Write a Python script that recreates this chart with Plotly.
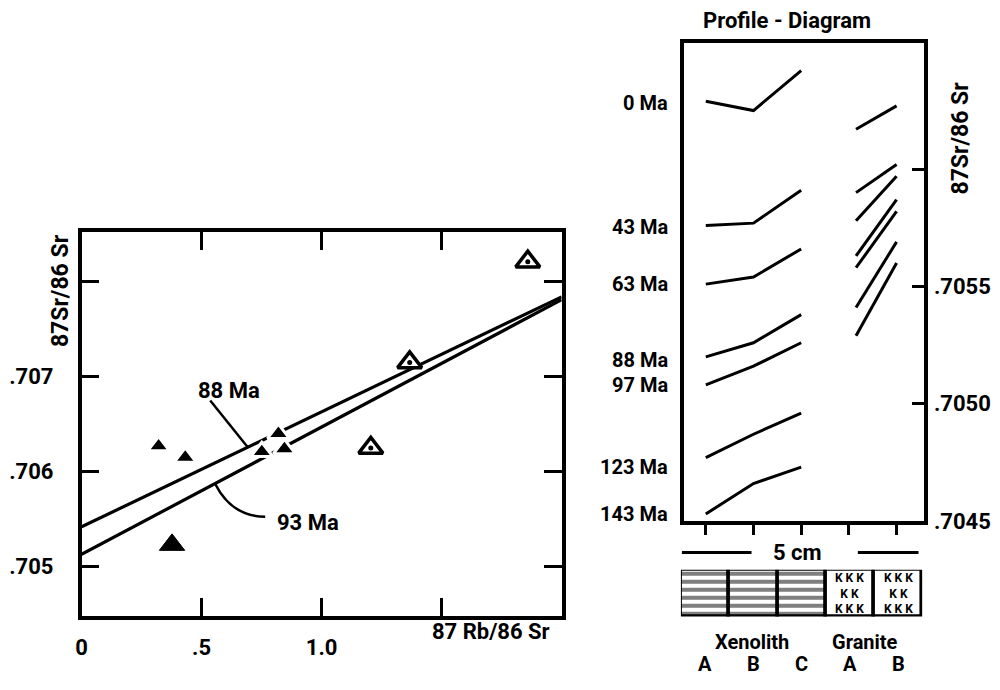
import plotly.graph_objects as go

# ---------------- Left panel: Rb-Sr isochron ----------------
xen_rb = [0.321, 0.432, 0.751, 0.820, 0.845]          # small filled triangles
xen_sr = [0.70627, 0.70615, 0.70621, 0.70640, 0.70624]
big_rb = [0.377]                                        # large filled triangle
big_sr = [0.70523]
gran_rb = [1.205, 1.367, 1.859]                         # open triangles with dot
gran_sr = [0.70625, 0.70715, 0.70821]

iso_x = [0.0, 2.0]
iso88_y = [0.70542, 0.70784]
iso93_y = [0.70513, 0.70781]

x_tickvals = [0, 0.5, 1.0, 1.5]
x_ticktext = ["0", ".5", "1.0", ""]
y_tickvals = [0.705, 0.706, 0.707, 0.708]
y_ticktext = [".705", ".706", ".707", ""]

# ---------------- Right panel: profile diagram ----------------
ages = ["0 Ma", "43 Ma", "63 Ma", "88 Ma", "97 Ma", "123 Ma", "143 Ma"]
xen_pos = [0, 1, 2]
gran_pos = [3.15, 4.0]
xen_profiles = [
    [0.70629, 0.70625, 0.70642],
    [0.70576, 0.70577, 0.70591],
    [0.70551, 0.70554, 0.70566],
    [0.70520, 0.70526, 0.70538],
    [0.70508, 0.70516, 0.70526],
    [0.70477, 0.70487, 0.70496],
    [0.70453, 0.70466, 0.70473],
]
gran_profiles = [
    [0.70617, 0.70627],
    [0.70590, 0.70602],
    [0.70578, 0.70597],
    [0.70563, 0.70587],
    [0.70558, 0.70582],
    [0.70541, 0.70569],
    [0.70529, 0.70560],
]
r_tickvals = [0.7045, 0.7050, 0.7055, 0.7060]
r_ticktext = [".7045", ".7050", ".7055", ""]

samples = ["A", "B", "C", "A", "B"]
sample_pos = [0, 1, 2, 3, 4]
rock_types = ["Xenolith", "Granite"]
granite_cells = [3, 4]

# ---------------- styles ----------------
FONT = "Roboto"
BLACK = "black"
age_label_shift = [-2, -2, 0, -3, 0, -9, 0]

fig = go.Figure()

fig.add_trace(go.Scatter(x=iso_x, y=iso88_y, mode="lines",
                         line=dict(color=BLACK, width=3.2), xaxis="x", yaxis="y"))
fig.add_trace(go.Scatter(x=iso_x, y=iso93_y, mode="lines",
                         line=dict(color=BLACK, width=3.2), xaxis="x", yaxis="y"))

fig.add_trace(go.Scatter(x=xen_rb, y=xen_sr, mode="markers",
                         marker=dict(symbol="triangle-up", size=19, color=BLACK,
                                     line=dict(color="white", width=3)),
                         xaxis="x", yaxis="y"))
fig.add_trace(go.Scatter(x=big_rb, y=big_sr, mode="markers",
                         marker=dict(symbol="triangle-up", size=22, color=BLACK,
                                     line=dict(color=BLACK, width=1)),
                         xaxis="x", yaxis="y"))
fig.add_trace(go.Scatter(x=gran_rb, y=gran_sr, mode="markers",
                         marker=dict(symbol="triangle-up", size=22, color="white",
                                     line=dict(color="white", width=2)),
                         xaxis="x", yaxis="y"))
fig.add_trace(go.Scatter(x=gran_rb, y=gran_sr, mode="markers",
                         marker=dict(symbol="triangle-up-open", size=21, color=BLACK,
                                     line=dict(color=BLACK, width=3.5)),
                         xaxis="x", yaxis="y"))
fig.add_trace(go.Scatter(x=gran_rb, y=gran_sr, mode="markers",
                         marker=dict(symbol="circle", size=5, color=BLACK),
                         xaxis="x", yaxis="y"))

for prof in xen_profiles:
    fig.add_trace(go.Scatter(x=xen_pos, y=prof, mode="lines",
                             line=dict(color=BLACK, width=3), xaxis="x2", yaxis="y2"))
for prof in gran_profiles:
    fig.add_trace(go.Scatter(x=gran_pos, y=prof, mode="lines",
                             line=dict(color=BLACK, width=3), xaxis="x2", yaxis="y2"))

fig.add_trace(go.Bar(
    x=sample_pos, y=[1] * len(sample_pos), width=1, xaxis="x3", yaxis="y3",
    marker=dict(color="white", line=dict(color=BLACK, width=3.5),
                pattern=dict(shape=["-", "-", "-", "", ""], fgcolor=BLACK,
                             bgcolor="white", size=8, solidity=0.5)),
))

axis_common = dict(showgrid=False, zeroline=False, showline=True, linecolor=BLACK,
                   linewidth=3.5, tickcolor=BLACK, tickwidth=3,
                   tickfont=dict(family=FONT, size=22, color=BLACK, weight="bold"))

fig.update_layout(
    width=1000, height=690, margin=dict(l=0, r=0, t=0, b=0),
    plot_bgcolor="white", paper_bgcolor="white", showlegend=False, bargap=0,
    xaxis=dict(domain=[0.076, 0.559], range=[0, 2.0], anchor="y",
               tickvals=x_tickvals, ticktext=x_ticktext, ticks="inside",
               ticklen=18, mirror="ticks", ticklabelstandoff=9, **axis_common),
    yaxis=dict(domain=[0.0899, 0.657], range=[0.70448, 0.70852], anchor="x",
               tickvals=y_tickvals, ticktext=y_ticktext, ticks="inside",
               ticklen=18, mirror="ticks", ticklabelstandoff=20, **axis_common),
    xaxis2=dict(domain=[0.6817, 0.9233], range=[-0.465, 4.57], anchor="y2",
                tickvals=sample_pos, ticks="outside", ticklen=10,
                showticklabels=False, mirror=True, **axis_common),
    yaxis2=dict(domain=[0.2304, 0.9372], range=[0.7045, 0.70654], anchor="x2",
                side="right", tickvals=r_tickvals, ticktext=r_ticktext,
                ticks="inside", ticklen=12, mirror=True, ticklabelstandoff=2,
                **axis_common),
    xaxis3=dict(domain=[0.679, 0.9217], range=[-0.5, 4.5], anchor="y3",
                visible=False, fixedrange=True),
    yaxis3=dict(domain=[0.0894, 0.1584], range=[0, 1], anchor="x3",
                visible=False, fixedrange=True),
)

tf = dict(family=FONT, size=22, color=BLACK, weight="bold")
tf_title = dict(family=FONT, size=23, color=BLACK, weight="bold")
tf_age = dict(family=FONT, size=20, color=BLACK, weight="bold")
tf_small = dict(family=FONT, size=20, color=BLACK, weight="bold")
tf_k = dict(family=FONT, size=12, color=BLACK, weight="bold")


def label(text, x, y, xref="paper", yref="paper", **kw):
    d = dict(text=text, x=x, y=y, xref=xref, yref=yref, showarrow=False,
             xanchor="center", yanchor="middle", font=tf)
    d.update(kw)
    return d


ann = []
ann.append(label("88 Ma", 0.615, 0.70685, "x", "y"))
ann.append(label("93 Ma", 0.943, 0.70547, "x", "y"))
ann.append(label("87Sr/86 Sr", 0.055, 0.571, textangle=-90, font=tf_title))
ann.append(label("87 Rb/86 Sr", 0.4875, 0.0667))
ann.append(label("Profile - Diagram", 0.786, 0.9696))
ann.append(label("87Sr/86 Sr", 0.960, 0.7957, textangle=-90, font=tf_title))
for age, prof, sh in zip(ages, xen_profiles, age_label_shift):
    ann.append(label(age, 0.668, prof[0], "paper", "y2", xanchor="right",
                     yshift=sh, font=tf_age))
ann.append(label("5 cm", 0.796, 0.184))
ann.append(label(rock_types[0], 0.751, 0.0522, font=tf_small))
ann.append(label(rock_types[1], 0.864, 0.0522, font=tf_small))
for s, p in zip(samples, sample_pos):
    ann.append(label(s, p, 0.0188, "x3", "paper", font=tf_small))
for c in granite_cells:
    ann.append(label("K K K<br>K K<br>K K K", c, 0.5, "x3", "y3", font=tf_k))
fig.update_layout(annotations=ann)

fig.add_shape(type="line", x0=0.536, y0=0.70675, x1=0.695, y1=0.70625,
              xref="x", yref="y", line=dict(color=BLACK, width=2.5))
fig.add_shape(type="path", path="M 0.557,0.705871 Q 0.625,0.70553 0.765,0.705525",
              xref="x", yref="y", line=dict(color=BLACK, width=2.5))
fig.add_shape(type="line", x0=0.680, x1=0.750, y0=0.184, y1=0.184,
              xref="paper", yref="paper", line=dict(color=BLACK, width=3))
fig.add_shape(type="line", x0=0.857, x1=0.918, y0=0.184, y1=0.184,
              xref="paper", yref="paper", line=dict(color=BLACK, width=3))

fig.write_html("out.html")
